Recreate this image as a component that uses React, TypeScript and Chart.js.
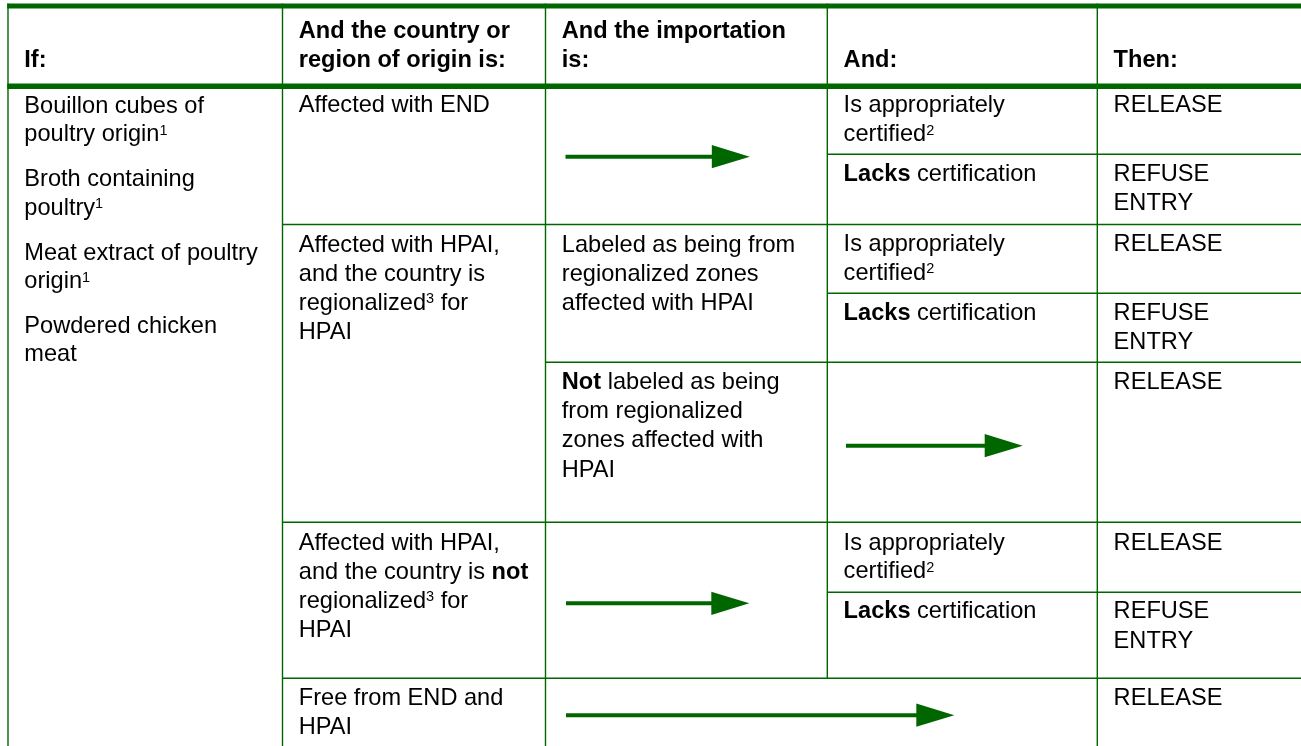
import { useEffect, useRef } from "react";
import { Chart, registerables } from "chart.js";

Chart.register(...registerables);

// ---- Table structure (values in table units) ----
const WIDTH = 1301;
const HEIGHT = 746;
const colEdges = [8, 282.5, 545.5, 827.3, 1097.3, 1301];
const thickRules = [
  { y: 6, w: 5 },
  { y: 86.2, w: 5.6 },
];
// horizontal thin rules: y, from column edge index, to column edge index
const rowRules = [
  { y: 154.3, from: 3, to: 5 },
  { y: 224.5, from: 1, to: 5 },
  { y: 293.3, from: 3, to: 5 },
  { y: 362.3, from: 2, to: 5 },
  { y: 522.3, from: 1, to: 5 },
  { y: 592.3, from: 3, to: 5 },
  { y: 678.3, from: 1, to: 5 },
];
// vertical thin rules: column edge index, y range
const colRules = [
  { c: 0, y0: 3.5, y1: 746 },
  { c: 1, y0: 3.5, y1: 746 },
  { c: 2, y0: 3.5, y1: 746 },
  { c: 3, y0: 3.5, y1: 678.3 },
  { c: 4, y0: 3.5, y1: 746 },
];

// header cells: column, baselines, lines
const headerCells = [
  { col: 0, base: [66.7], lines: ["If:"] },
  { col: 1, base: [37.7, 66.7], lines: ["And the country or", "region of origin is:"] },
  { col: 2, base: [37.7, 66.7], lines: ["And the importation", "is:"] },
  { col: 3, base: [66.7], lines: ["And:"] },
  { col: 4, base: [66.7], lines: ["Then:"] },
];

// body cells ("**x**" bold, "^n" superscript)
const bodyCells = [
  { col: 0, base: [113, 141.3], lines: ["Bouillon cubes of", "poultry origin^1"] },
  { col: 0, base: [186.3, 214.7], lines: ["Broth containing", "poultry^1"] },
  { col: 0, base: [259.7, 288], lines: ["Meat extract of poultry", "origin^1"] },
  { col: 0, base: [333, 361.3], lines: ["Powdered chicken", "meat"] },

  { col: 1, base: [112], lines: ["Affected with END"] },
  { col: 1, base: [251.7, 280.5, 309.5, 338.5], lines: ["Affected with HPAI,", "and the country is", "regionalized^3 for", "HPAI"] },
  { col: 1, base: [549.7, 578.5, 607.5, 636.5], lines: ["Affected with HPAI,", "and the country is **not**", "regionalized^3 for", "HPAI"] },
  { col: 1, base: [705, 733.5], lines: ["Free from END and", "HPAI"] },

  { col: 2, base: [251.7, 280.5, 309.5], lines: ["Labeled as being from", "regionalized zones", "affected with HPAI"] },
  { col: 2, base: [388.7, 417.7, 446.7, 476.7], lines: ["**Not** labeled as being", "from regionalized", "zones affected with", "HPAI"] },

  { col: 3, base: [112, 141.3], lines: ["Is appropriately", "certified^2"] },
  { col: 3, base: [181.3], lines: ["**Lacks** certification"] },
  { col: 3, base: [251, 279.8], lines: ["Is appropriately", "certified^2"] },
  { col: 3, base: [319.6], lines: ["**Lacks** certification"] },
  { col: 3, base: [549.5, 578.3], lines: ["Is appropriately", "certified^2"] },
  { col: 3, base: [618.3], lines: ["**Lacks** certification"] },

  { col: 4, base: [112], lines: ["RELEASE"] },
  { col: 4, base: [181.3, 210], lines: ["REFUSE", "ENTRY"] },
  { col: 4, base: [251], lines: ["RELEASE"] },
  { col: 4, base: [319.6, 349], lines: ["REFUSE", "ENTRY"] },
  { col: 4, base: [388.7], lines: ["RELEASE"] },
  { col: 4, base: [549.5], lines: ["RELEASE"] },
  { col: 4, base: [618.3, 647.5], lines: ["REFUSE", "ENTRY"] },
  { col: 4, base: [705], lines: ["RELEASE"] },
];

// arrows: shaft start, tip, vertical position
const arrows = [
  { x0: 565.5, x1: 749.8, y: 156.7 },
  { x0: 846, x1: 1022.7, y: 445.7 },
  { x0: 566, x1: 749.3, y: 603.3 },
  { x0: 566, x1: 954.3, y: 715.2 },
];

const GREEN = "#006600";
const FONT = '"Liberation Sans", Arial, Helvetica, sans-serif';
const SIZE = 23.6;
const SUP_SIZE = 14.5;
const PAD = 16.3;

type Seg = { t: string; b: boolean; sup: boolean };

function parse(line: string, allBold: boolean): Seg[] {
  const segs: Seg[] = [];
  const re = /(\*\*[^*]+\*\*)|(\^\d)/g;
  let last = 0;
  let m: RegExpExecArray | null;
  while ((m = re.exec(line))) {
    if (m.index > last) segs.push({ t: line.slice(last, m.index), b: allBold, sup: false });
    if (m[1]) segs.push({ t: m[1].slice(2, -2), b: true, sup: false });
    else segs.push({ t: m[2].slice(1), b: allBold, sup: true });
    last = re.lastIndex;
  }
  if (last < line.length) segs.push({ t: line.slice(last), b: allBold, sup: false });
  return segs;
}

const tablePlugin = {
  id: "tablePlugin",
  afterDraw(chart: any) {
    const ctx = chart.ctx as CanvasRenderingContext2D;
    const xs = chart.scales.x;
    const ys = chart.scales.y;
    const px = (v: number) => xs.getPixelForValue(v);
    const py = (v: number) => ys.getPixelForValue(v);
    ctx.save();
    ctx.fillStyle = "#ffffff";
    ctx.fillRect(0, 0, chart.width, chart.height);

    // thin vertical rules
    ctx.strokeStyle = GREEN;
    ctx.lineWidth = 1.4;
    for (const r of colRules) {
      ctx.beginPath();
      ctx.moveTo(px(colEdges[r.c]), py(r.y0));
      ctx.lineTo(px(colEdges[r.c]), py(r.y1));
      ctx.stroke();
    }
    // thin horizontal rules
    for (const r of rowRules) {
      ctx.beginPath();
      ctx.moveTo(px(colEdges[r.from]), py(r.y));
      ctx.lineTo(px(colEdges[r.to]), py(r.y));
      ctx.stroke();
    }
    // thick rules
    for (const r of thickRules) {
      ctx.lineWidth = r.w;
      ctx.beginPath();
      ctx.moveTo(px(colEdges[0] - 0.8), py(r.y));
      ctx.lineTo(px(colEdges[colEdges.length - 1]), py(r.y));
      ctx.stroke();
    }

    // arrows
    for (const a of arrows) {
      const headLen = 38;
      const half = 11.6;
      ctx.lineWidth = 4;
      ctx.beginPath();
      ctx.moveTo(px(a.x0), py(a.y));
      ctx.lineTo(px(a.x1 - headLen + 2), py(a.y));
      ctx.stroke();
      ctx.fillStyle = GREEN;
      ctx.beginPath();
      ctx.moveTo(px(a.x1), py(a.y));
      ctx.lineTo(px(a.x1 - headLen), py(a.y - half));
      ctx.lineTo(px(a.x1 - headLen), py(a.y + half));
      ctx.closePath();
      ctx.fill();
    }

    // text
    ctx.fillStyle = "#000000";
    ctx.textBaseline = "alphabetic";
    ctx.textAlign = "left";
    const drawCell = (cell: any, bold: boolean) => {
      cell.lines.forEach((line: string, i: number) => {
        let x = px(colEdges[cell.col] + PAD);
        const y = py(cell.base[i]);
        for (const s of parse(line, bold)) {
          if (s.sup) {
            ctx.font = `${s.b ? "bold " : ""}${SUP_SIZE}px ${FONT}`;
            ctx.fillText(s.t, x, y - 6.5);
          } else {
            ctx.font = `${s.b ? "bold " : ""}${SIZE}px ${FONT}`;
            ctx.fillText(s.t, x, y);
          }
          x += ctx.measureText(s.t).width;
        }
      });
    };
    headerCells.forEach((c) => drawCell(c, true));
    bodyCells.forEach((c) => drawCell(c, false));
    ctx.restore();
  },
};

export default function App() {
  const ref = useRef<HTMLCanvasElement | null>(null);
  useEffect(() => {
    if (!ref.current) return;
    const chart = new Chart(ref.current, {
      type: "scatter",
      data: { datasets: [{ data: [], pointRadius: 0 }] },
      options: {
        responsive: false,
        animation: false,
        events: [],
        layout: { padding: 0 },
        plugins: { legend: { display: false }, tooltip: { enabled: false } },
        scales: {
          x: { type: "linear", display: false, min: 0, max: WIDTH },
          y: { type: "linear", display: false, min: 0, max: HEIGHT, reverse: true },
        },
      },
      plugins: [tablePlugin],
    } as any);
    return () => chart.destroy();
  }, []);
  return (
    <div style={{ position: "absolute", left: 0, top: 0, width: WIDTH, height: HEIGHT, background: "#fff", overflow: "hidden" }}>
      <canvas ref={ref} width={WIDTH} height={HEIGHT} style={{ display: "block", width: WIDTH, height: HEIGHT }} />
    </div>
  );
}
